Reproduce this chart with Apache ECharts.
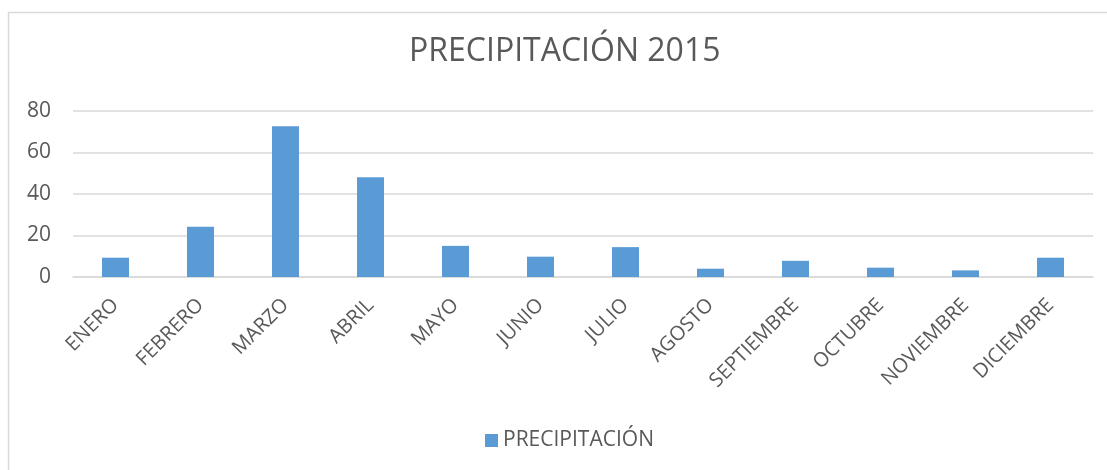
<!DOCTYPE html>
<html>
<head>
<meta charset="utf-8">
<script src="https://cdn.jsdelivr.net/npm/echarts@6/dist/echarts.min.js"></script>
<style>
html,body{margin:0;padding:0;background:#fff;}
#chart{width:1107px;height:470px;}
</style>
</head>
<body>
<div id="chart"></div>
<script>
const titleText = 'PRECIPITACIÓN 2015';
const seriesName = 'PRECIPITACIÓN';
const months = ['ENERO','FEBRERO','MARZO','ABRIL','MAYO','JUNIO','JULIO','AGOSTO','SEPTIEMBRE','OCTUBRE','NOVIEMBRE','DICIEMBRE'];
const precipitation = [9.3, 24.2, 72.6, 48.1, 15.0, 9.8, 14.4, 4.0, 7.8, 4.5, 3.2, 9.3];
const yTicks = [0, 20, 40, 60, 80];

const FONT = '"Open Sans", "Noto Sans", sans-serif';
const chart = echarts.init(document.getElementById('chart'), null, {renderer: 'canvas'});
chart.setOption({
  animation: false,
  backgroundColor: '#ffffff',
  title: {
    text: titleText,
    left: 409,
    top: 36,
    padding: 0,
    textStyle: {fontFamily: FONT, fontSize: 32, fontWeight: 'normal', color: '#595959'}
  },
  graphic: [{
    type: 'rect',
    shape: {x: 8.5, y: 12.5, width: 1200, height: 600},
    style: {fill: 'none', stroke: '#d9d9d9', lineWidth: 1.5},
    silent: true
  }],
  legend: {
    data: [seriesName],
    left: 485,
    top: 430,
    padding: 0,
    itemWidth: 13,
    itemHeight: 13,
    itemGap: 10,
    textStyle: {fontFamily: FONT, fontSize: 21, color: '#595959'},
    icon: 'rect'
  },
  grid: {left: 73, right: 14, top: 111, bottom: 193, containLabel: false},
  xAxis: {
    type: 'category',
    data: months,
    axisLine: {show: true, lineStyle: {color: '#d9d9d9', width: 1.5}},
    axisTick: {show: false},
    axisLabel: {rotate: 45, margin: 25, interval: 0, fontFamily: FONT, fontSize: 20, color: '#595959'}
  },
  yAxis: {
    type: 'value',
    min: yTicks[0],
    max: yTicks[yTicks.length - 1],
    interval: yTicks[1] - yTicks[0],
    axisLine: {show: false},
    axisTick: {show: false},
    splitLine: {lineStyle: {color: '#d9d9d9', width: 1.5}},
    axisLabel: {margin: 22, fontFamily: FONT, fontSize: 21, color: '#595959'}
  },
  series: [{
    name: seriesName,
    type: 'bar',
    data: precipitation,
    barWidth: 27,
    itemStyle: {color: '#5b9bd5'}
  }]
});
</script>
</body>
</html>
